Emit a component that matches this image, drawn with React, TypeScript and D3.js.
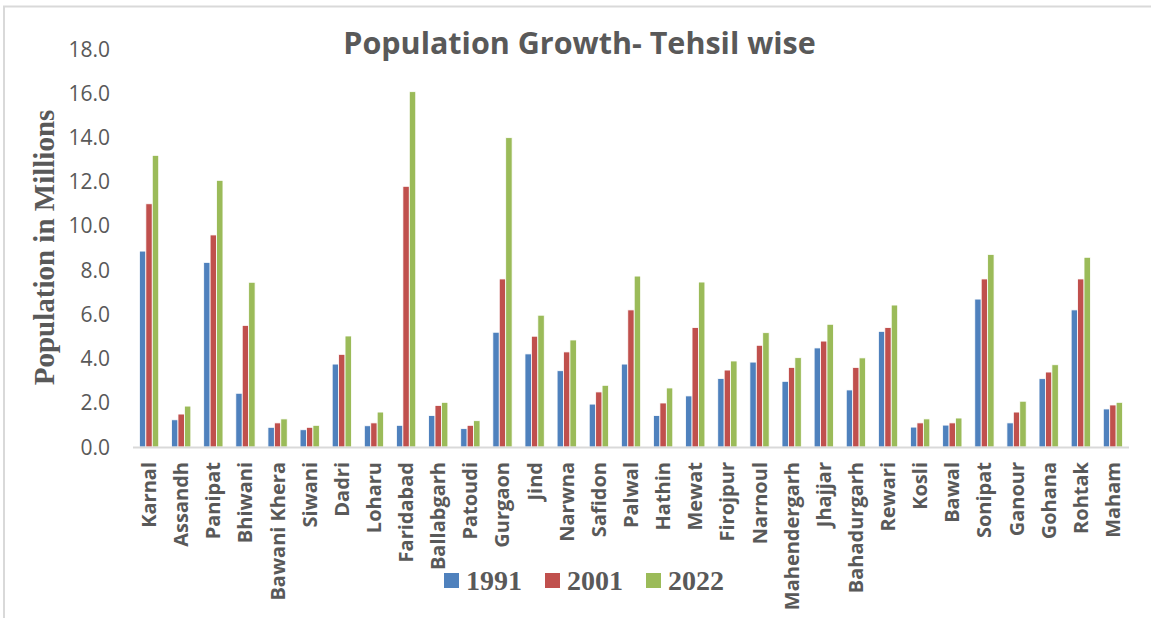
import React from "react";
import * as d3 from "d3";

const categories = [
  "Karnal", "Assandh", "Panipat", "Bhiwani", "Bawani Khera", "Siwani", "Dadri", "Loharu",
  "Faridabad", "Ballabgarh", "Patoudi", "Gurgaon", "Jind", "Narwna", "Safidon", "Palwal",
  "Hathin", "Mewat", "Firojpur", "Narnoul", "Mahendergarh", "Jhajjar", "Bahadurgarh", "Rewari",
  "Kosli", "Bawal", "Sonipat", "Ganour", "Gohana", "Rohtak", "Maham",
];

const pop1991 = [
  8.86, 1.23, 8.35, 2.43, 0.89, 0.78, 3.75, 0.96, 0.98, 1.42, 0.83, 5.19, 4.21, 3.45, 1.94, 3.75,
  1.42, 2.31, 3.1, 3.84, 2.97, 4.48, 2.58, 5.23, 0.9, 0.99, 6.69, 1.09, 3.09, 6.2, 1.72,
];
const pop2001 = [
  11.0, 1.49, 9.59, 5.5, 1.09, 0.89, 4.19, 1.09, 11.79, 1.88, 0.98, 7.6, 5.01, 4.3, 2.49, 6.2,
  1.99, 5.4, 3.48, 4.6, 3.6, 4.79, 3.6, 5.4, 1.09, 1.09, 7.6, 1.58, 3.39, 7.6, 1.9,
];
const pop2022 = [
  13.19, 1.85, 12.06, 7.45, 1.27, 0.98, 5.02, 1.58, 16.07, 2.02, 1.19, 13.99, 5.96, 4.84, 2.79, 7.73,
  2.67, 7.46, 3.89, 5.17, 4.04, 5.55, 4.03, 6.42, 1.27, 1.31, 8.71, 2.07, 3.72, 8.58, 2.02,
];

const seriesNames = ["1991", "2001", "2022"];
const seriesColors = ["#4F81BD", "#C0504D", "#9BBB59"];
const yTicks = [0, 2, 4, 6, 8, 10, 12, 14, 16, 18];

const W = 1151;
const H = 618;
const plot = { left: 133, right: 1129, top: 49, bottom: 447 };
const textGrey = "#595959";

export default function App() {
  const series = [pop1991, pop2001, pop2022];

  const x = d3
    .scaleBand<string>()
    .domain(categories)
    .range([plot.left, plot.right])
    .paddingInner(0.4)
    .paddingOuter(0.2);

  const xInner = d3
    .scaleBand<string>()
    .domain(seriesNames)
    .range([0, x.bandwidth()]);

  const y = d3.scaleLinear().domain([0, 18]).range([plot.bottom, plot.top]);

  const legendX = [444, 545, 646];

  return (
    <svg
      width={W}
      height={H}
      viewBox={`0 0 ${W} ${H}`}
      style={{ position: "absolute", left: 0, top: 0, background: "#fff" }}
    >
      <rect x={0} y={0} width={W} height={H} fill="#fff" />
      {/* outer frame: top and left edges */}
      <line x1={3} x2={W} y1={6.5} y2={6.5} stroke="#d9d9d9" strokeWidth={2} />
      <line x1={4} x2={4} y1={6} y2={H} stroke="#d9d9d9" strokeWidth={2} />

      {/* title */}
      <text
        x={579.5}
        y={54}
        textAnchor="middle"
        fontFamily="'Open Sans', sans-serif"
        fontWeight={700}
        fontSize={30.5}
        fill={textGrey}
      >
        Population Growth- Tehsil wise
      </text>

      {/* y tick labels */}
      {yTicks.map((t) => (
        <text
          key={t}
          x={110}
          y={y(t)}
          dy="0.36em"
          textAnchor="end"
          fontFamily="'Open Sans', sans-serif"
          fontSize={21}
          fill={textGrey}
        >
          {d3.format(".1f")(t)}
        </text>
      ))}

      {/* y axis title */}
      <text
        transform={`translate(54, ${247.5}) rotate(-90)`}
        textAnchor="middle"
        fontFamily="'Liberation Serif', 'Times New Roman', serif"
        fontWeight={700}
        fontSize={29}
        fill={textGrey}
      >
        Population in Millions
      </text>

      {/* bars */}
      {series.map((vals, si) => (
        <g key={seriesNames[si]} fill={seriesColors[si]}>
          {categories.map((c, ci) => {
            const bx = (x(c) ?? 0) + (xInner(seriesNames[si]) ?? 0);
            const by = y(vals[ci]);
            return (
              <rect
                key={c}
                x={bx}
                y={by}
                width={xInner.bandwidth()}
                height={y(0) - by}
                stroke="#ffffff"
                strokeWidth={0.8}
              />
            );
          })}
        </g>
      ))}

      {/* category axis line */}
      <line
        x1={plot.left}
        x2={plot.right}
        y1={plot.bottom + 0.5}
        y2={plot.bottom + 0.5}
        stroke="#d9d9d9"
        strokeWidth={2}
      />

      {/* category labels */}
      {categories.map((c) => {
        const cx = (x(c) ?? 0) + x.bandwidth() / 2;
        return (
          <text
            key={c}
            transform={`translate(${cx}, 462) rotate(-90)`}
            dy="0.35em"
            textAnchor="end"
            fontFamily="'Open Sans', sans-serif"
            fontWeight={700}
            fontSize={20}
            fill={textGrey}
          >
            {c}
          </text>
        );
      })}

      {/* legend */}
      {seriesNames.map((name, i) => (
        <g key={name} transform={`translate(${legendX[i]}, 573)`}>
          <rect x={0} y={0} width={15} height={15} fill={seriesColors[i]} />
          <text
            x={22}
            y={17}
            fontFamily="'Liberation Serif', 'Times New Roman', serif"
            fontWeight={700}
            fontSize={28}
            fill={textGrey}
          >
            {name}
          </text>
        </g>
      ))}
    </svg>
  );
}
